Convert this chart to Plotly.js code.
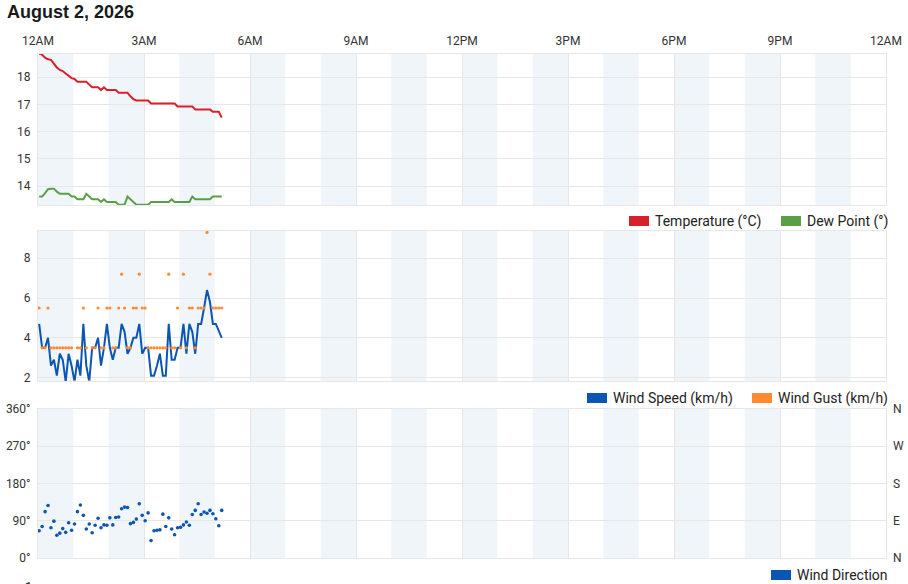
<!DOCTYPE html>
<html><head><meta charset="utf-8">
<script src="https://cdn.plot.ly/plotly-3.0.1.min.js"></script>
<style>html,body{margin:0;padding:0;background:#fff}#chart{width:908px;height:584px}</style>
</head><body><div id="chart"></div>
<script>
const dayStart = "2026-08-02 00:00";
const dayEnd = "2026-08-03 00:00";
const day = "2026-08-02";

const times = [
"00:02","00:07","00:12","00:17","00:22","00:27","00:32","00:37","00:42","00:47","00:52","00:57",
"01:02","01:07","01:12","01:17","01:22","01:27","01:32","01:37","01:42","01:47","01:52","01:57",
"02:02","02:07","02:12","02:17","02:22","02:27","02:32","02:37","02:42","02:47","02:52","02:57",
"03:02","03:07","03:12","03:17","03:22","03:27","03:32","03:37","03:42","03:47","03:52","03:57",
"04:02","04:07","04:12","04:17","04:22","04:27","04:32","04:37","04:42","04:47","04:52","04:57",
"05:02","05:07","05:12"];

const temperature = [18.87,18.83,18.72,18.66,18.64,18.50,18.36,18.27,18.23,18.14,18.07,17.97,
17.94,17.84,17.84,17.84,17.84,17.73,17.63,17.63,17.63,17.53,17.63,17.53,
17.53,17.53,17.53,17.43,17.43,17.43,17.43,17.30,17.20,17.15,17.15,17.15,
17.15,17.15,17.04,17.04,17.04,17.04,17.04,17.04,17.04,17.04,17.04,16.93,
16.93,16.93,16.93,16.93,16.93,16.82,16.82,16.82,16.82,16.82,16.82,16.73,
16.73,16.73,16.52];

const dewPoint = [13.62,13.62,13.75,13.89,13.91,13.91,13.80,13.72,13.72,13.72,13.72,13.62,
13.62,13.52,13.52,13.52,13.72,13.60,13.52,13.52,13.52,13.42,13.52,13.42,
13.42,13.42,13.42,13.32,13.32,13.32,13.62,13.52,13.42,13.32,13.32,13.32,
13.32,13.32,13.42,13.42,13.42,13.42,13.42,13.42,13.42,13.52,13.42,13.42,
13.42,13.42,13.42,13.42,13.62,13.52,13.52,13.52,13.52,13.52,13.52,13.62,
13.62,13.62,13.62];

const windSpeed = [4.7,3.5,3.5,4.0,2.6,2.9,2.1,3.2,2.9,1.8,3.2,2.6,
1.8,2.9,2.1,4.7,2.6,1.8,3.5,3.5,4.0,2.6,3.5,4.7,
3.5,2.9,3.5,3.5,4.7,4.3,3.2,3.5,4.0,4.0,4.7,3.2,
3.5,3.5,2.1,2.1,2.6,3.2,2.1,2.1,4.7,2.9,2.9,3.5,
3.5,4.7,3.2,4.7,4.3,3.2,4.7,4.7,5.5,6.4,5.8,4.7,
4.7,4.3,4.0];

const windGust = [5.5,3.5,3.5,5.5,3.5,3.5,3.5,3.5,3.5,3.5,3.5,3.5,
1.8,3.5,3.5,5.5,3.5,1.8,3.5,3.5,5.5,3.5,3.5,5.5,
5.5,3.5,3.5,5.5,7.2,5.5,3.5,3.5,5.5,5.5,7.2,5.5,
5.5,3.5,3.5,3.5,3.5,3.5,3.5,3.5,7.2,3.5,3.5,5.5,
3.5,7.2,3.5,5.5,5.5,3.5,5.5,5.5,5.5,9.3,7.2,5.5,
5.5,5.5,5.5];

const windDirection = [66,76,112,127,73,89,55,60,71,62,85,67,
82,112,128,103,70,82,61,79,96,73,80,79,
97,80,98,99,119,123,122,83,86,94,131,103,
90,109,42,66,67,68,106,76,97,70,56,73,
74,80,87,79,105,115,131,105,111,108,115,107,
95,78,115];

const xTickTimes = ["2026-08-02 00:00","2026-08-02 03:00","2026-08-02 06:00","2026-08-02 09:00","2026-08-02 12:00","2026-08-02 15:00","2026-08-02 18:00","2026-08-02 21:00","2026-08-03 00:00"];
const xTickLabels = ["12AM","3AM","6AM","9AM","12PM","3PM","6PM","9PM","12AM"];
const dirTickVals = [0,90,180,270,360];
const dirTickLabels = ["0°","90°","180°","270°","360°"];
const compassLabels = ["N","E","S","W","N"];

const x = times.map(t => day + " " + t);

// pixel layout helpers
const L = 38, R = 886, T = 54, B = 558;
const py = p => (B - p) / (B - T);
const px = p => (p - L) / (R - L);

const gridC = "#e7e7e7";
const tickFont = {family: "Roboto, Arial, sans-serif", size: 12, color: "#333"};
const red = "#d7202a", green = "#5a9e46", blue = "#0b56b3", orange = "#ff8a30";

const traces = [
  {x: x, y: temperature, xaxis: "x", yaxis: "y", type: "scatter", mode: "lines",
   line: {color: red, width: 2}, name: "Temperature (°C)", showlegend: false, hoverinfo: "skip"},
  {x: x, y: dewPoint, xaxis: "x", yaxis: "y", type: "scatter", mode: "lines",
   line: {color: green, width: 2}, name: "Dew Point (°)", showlegend: false, hoverinfo: "skip"},
  {x: x, y: windSpeed, xaxis: "x2", yaxis: "y2", type: "scatter", mode: "lines",
   line: {color: blue, width: 2}, name: "Wind Speed (km/h)", showlegend: false, hoverinfo: "skip"},
  {x: x, y: windGust, xaxis: "x2", yaxis: "y2", type: "scatter", mode: "markers",
   marker: {color: orange, size: 3.2}, name: "Wind Gust (km/h)", showlegend: false, hoverinfo: "skip"},
  {x: x, y: windDirection, xaxis: "x3", yaxis: "y3", type: "scatter", mode: "markers",
   marker: {color: blue, size: 3.6}, name: "Wind Direction", showlegend: false, hoverinfo: "skip"},
  // empty trace so the right-hand compass axis gets drawn
  {x: [], y: [], xaxis: "x3", yaxis: "y4", type: "scatter", mode: "markers", showlegend: false, hoverinfo: "skip"}
];

const xBase = {type: "date", range: [dayStart, dayEnd], tickmode: "array", tickvals: xTickTimes, ticktext: xTickLabels,
  showgrid: true, gridcolor: gridC, gridwidth: 1, showline: true, linecolor: gridC, linewidth: 1, mirror: true,
  zeroline: false, ticks: "", tickfont: tickFont, fixedrange: true};
const yBase = {showgrid: true, gridcolor: gridC, gridwidth: 1, showline: true, linecolor: gridC, linewidth: 1, mirror: true,
  zeroline: false, ticks: "", tickfont: tickFont, ticklabelstandoff: 4, fixedrange: true};

const shapes = [];
const annotations = [];
const panels = ["y domain", "y2 domain", "y3 domain"];
const panelX = ["x", "x2", "x3"];
for (let p = 0; p < 3; p++) {
  for (let h = 0; h < 24; h += 2) {
    const hh = String(h).padStart(2, "0"), h1 = String(h + 1).padStart(2, "0");
    shapes.push({type: "rect", xref: panelX[p], yref: panels[p], x0: day + " " + hh + ":00", x1: day + " " + h1 + ":00",
      y0: 0, y1: 1, fillcolor: "#f0f5fa", line: {width: 0}, layer: "below"});
  }
}
const legendItems = [
  {label: "Temperature (°C)", color: red, sx: 629, y: 221},
  {label: "Dew Point (°)", color: green, sx: 781, y: 221},
  {label: "Wind Speed (km/h)", color: blue, sx: 587, y: 398},
  {label: "Wind Gust (km/h)", color: orange, sx: 752, y: 398},
  {label: "Wind Direction", color: blue, sx: 771, y: 575}
];
legendItems.forEach(it => {
  shapes.push({type: "rect", xref: "paper", yref: "paper", x0: px(it.sx), x1: px(it.sx + 20),
    y0: py(it.y + 5), y1: py(it.y - 5), fillcolor: it.color, line: {width: 0}, layer: "above"});
  annotations.push({xref: "paper", yref: "paper", x: px(it.sx + 24), y: py(it.y), xanchor: "left", yanchor: "middle",
    text: it.label, showarrow: false, font: {family: "Roboto, Arial, sans-serif", size: 14, color: "#222"}});
});
annotations.push({xref: "paper", yref: "paper", x: px(28), y: py(577), xanchor: "center", yanchor: "top",
  text: "1", showarrow: false, font: {family: "Roboto, Arial, sans-serif", size: 13, color: "#222"}});

const layout = {
  width: 908, height: 584,
  margin: {l: L, r: 908 - R, t: T, b: 584 - B, pad: 0},
  paper_bgcolor: "#fff", plot_bgcolor: "#fff",
  showlegend: false,
  title: {text: "August 2, 2026", x: 7 / 908, xanchor: "left", xref: "container", y: 1 - 12 / 584, yanchor: "middle", yref: "container",
    font: {family: "Liberation Sans, Arial, sans-serif", size: 18, color: "#1a1a1a", weight: "bold"}},
  xaxis: Object.assign({}, xBase, {domain: [0, 1], anchor: "y", side: "top", showticklabels: true, ticklabelstandoff: 3}),
  xaxis2: Object.assign({}, xBase, {domain: [0, 1], anchor: "y2", matches: "x", showticklabels: false}),
  xaxis3: Object.assign({}, xBase, {domain: [0, 1], anchor: "y3", matches: "x", showticklabels: false}),
  yaxis: Object.assign({}, yBase, {domain: [py(205), 1], anchor: "x", range: [13.31, 18.855], tick0: 0, dtick: 1}),
  yaxis2: Object.assign({}, yBase, {domain: [py(381), py(231)], anchor: "x2", range: [1.83, 9.37], tick0: 0, dtick: 2}),
  yaxis3: Object.assign({}, yBase, {domain: [0, py(409)], anchor: "x3", range: [0, 360], tickmode: "array", tickvals: dirTickVals, ticktext: dirTickLabels}),
  yaxis4: {overlaying: "y3", anchor: "x3", side: "right", range: [0, 360], tickmode: "array", tickvals: dirTickVals, ticktext: compassLabels,
    showgrid: false, zeroline: false, showline: false, ticks: "", tickfont: tickFont, ticklabelstandoff: 6, fixedrange: true},
  shapes: shapes,
  annotations: annotations
};

Plotly.newPlot("chart", traces, layout, {displayModeBar: false, staticPlot: true});
</script>
</body></html>
